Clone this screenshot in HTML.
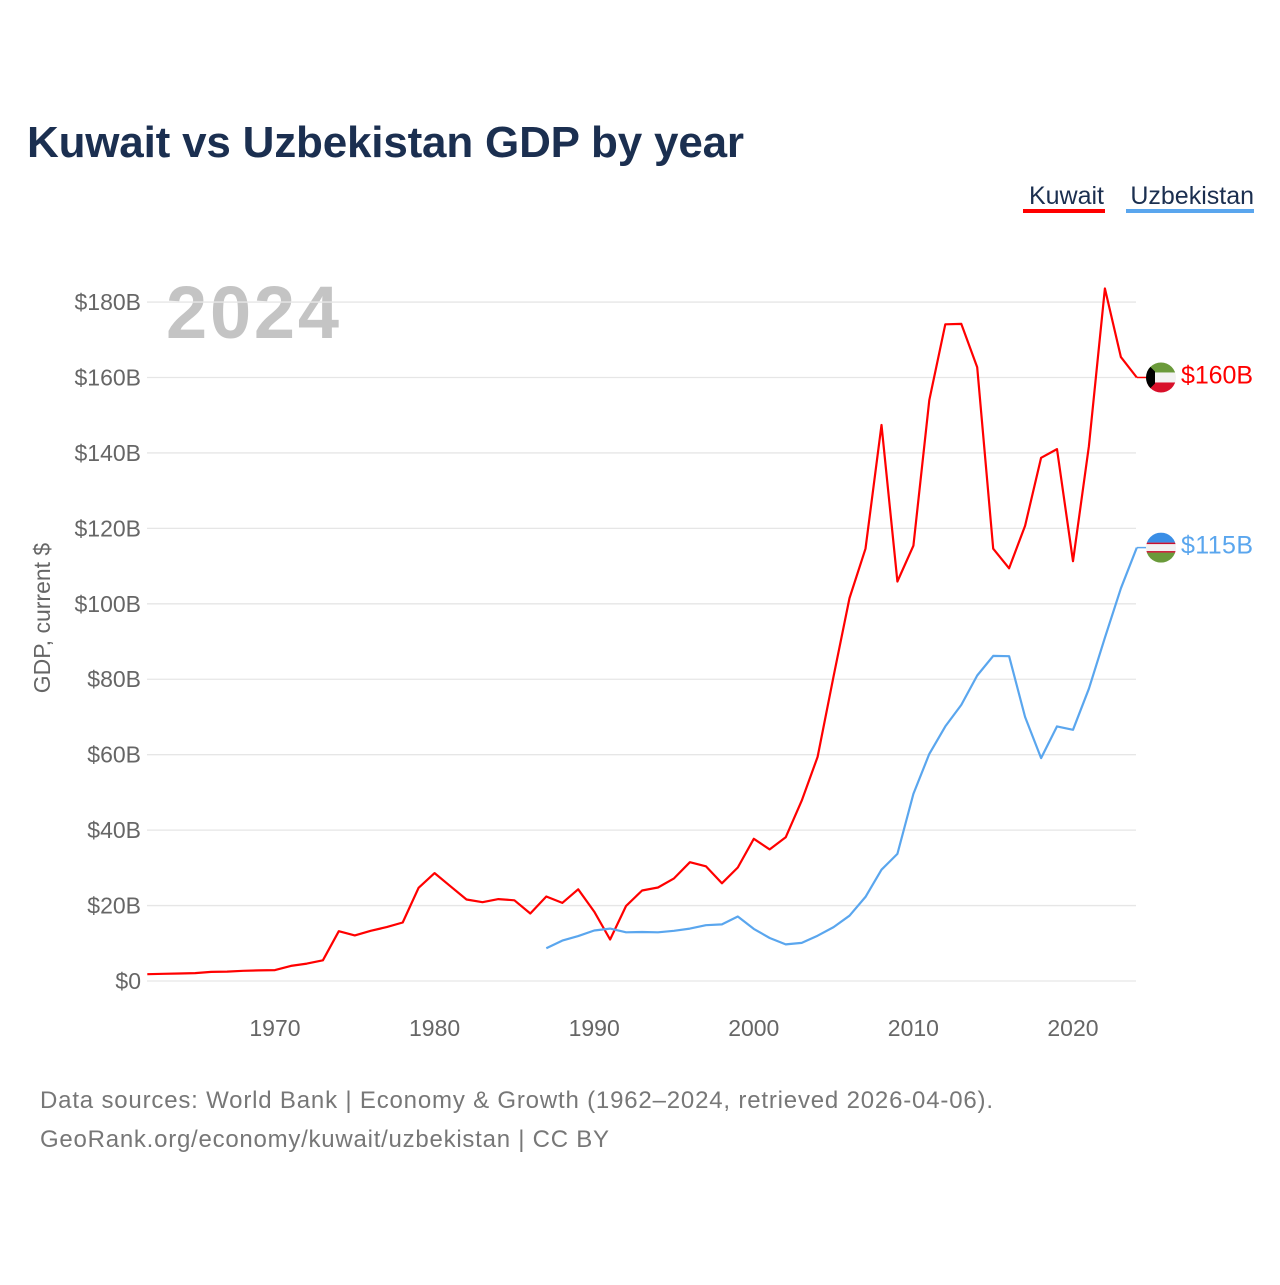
<!DOCTYPE html>
<html><head><meta charset="utf-8"><style>
body{margin:0;background:#fff;font-family:"Liberation Sans",sans-serif}
#c{position:relative;width:1280px;height:1280px}
</style></head><body>
<div id="c">
<svg id="s" width="1280" height="1280">
<text x="27" y="157" font-size="44" font-weight="bold" fill="#1b2f50" textLength="717">Kuwait vs Uzbekistan GDP by year</text>
<g><text x="1104" y="204" font-size="25" fill="#1b2f50" text-anchor="end">Kuwait</text><rect x="1023" y="209" width="82" height="4" fill="#ff0000"/></g>
<g><text x="1254" y="204" font-size="25" fill="#1b2f50" text-anchor="end">Uzbekistan</text><rect x="1126" y="209" width="128" height="4" fill="#5aa6ee"/></g>
<text x="166" y="338" font-size="74" font-weight="bold" fill="#c4c4c4" textLength="173">2024</text>
<text transform="translate(50,618) rotate(-90)" font-size="23" fill="#666" text-anchor="middle">GDP, current $</text>
<g id="grid"></g><g id="xt"></g><g id="lines"></g><g id="ends"></g>
<text x="40" y="1108" font-size="24" fill="#777" textLength="953">Data sources: World Bank | Economy &amp; Growth (1962–2024, retrieved 2026-04-06).</text>
<text x="40" y="1147" font-size="24" fill="#777" textLength="569">GeoRank.org/economy/kuwait/uzbekistan | CC BY</text>
</svg></div>
<script>
const yTicks=[0,20,40,60,80,100,120,140,160,180];
const yTickLabels=["$0","$20B","$40B","$60B","$80B","$100B","$120B","$140B","$160B","$180B"];
const xTicks=[1970,1980,1990,2000,2010,2020];
const kuwaitStart=1962;
const kuwait=[1.8,1.9,2.0,2.1,2.4,2.5,2.7,2.8,2.9,4.0,4.6,5.5,13.2,12.1,13.3,14.3,15.5,24.7,28.6,25.1,21.6,20.9,21.7,21.4,17.9,22.4,20.7,24.3,18.4,11.0,19.9,24.0,24.8,27.2,31.5,30.4,25.9,30.1,37.7,34.9,38.1,47.8,59.4,80.8,101.5,114.6,147.4,105.9,115.4,154.0,174.1,174.2,162.7,114.6,109.4,120.7,138.7,141.0,111.3,141.8,183.6,165.4,160.0];
const uzbStart=1987;
const uzbekistan=[8.7,10.7,11.9,13.4,13.9,12.9,13.0,12.9,13.3,13.9,14.8,15.0,17.1,13.8,11.4,9.7,10.1,12.0,14.3,17.3,22.3,29.5,33.7,49.6,60.2,67.5,73.2,81.0,86.2,86.1,70.0,59.1,67.5,66.6,77.5,91.0,104.1,114.9];
const NS="http://www.w3.org/2000/svg";
const X=yr=>147.3+(yr-1962)*15.96;
const Y=v=>981-v*3.772;
function mk(t,a,p){const e=document.createElementNS(NS,t);for(const k in a)e.setAttribute(k,a[k]);if(p)p.appendChild(e);return e;}
const grid=document.getElementById('grid');
yTicks.forEach((v,i)=>{
 const l=mk('line',{x1:147,x2:1136,y1:Y(v),y2:Y(v),stroke:'#e6e6e6','stroke-width':1.3},grid);
 
 
 const t=mk('text',{x:141,y:Y(v)+8,'font-size':23,fill:'#666','text-anchor':'end'},grid);
 t.textContent=yTickLabels[i];
 
 
});
const xt=document.getElementById('xt');
xTicks.forEach(yr=>{
 const t=mk('text',{x:X(yr),y:1036,'font-size':23,fill:'#666','text-anchor':'middle'},xt);
 t.textContent=yr;
 
 
});
const lines=document.getElementById('lines');
function pts(arr,s){return arr.map((v,i)=>X(s+i).toFixed(1)+','+Y(v).toFixed(1)).join(' ');}
const pk=mk('polyline',{points:pts(kuwait,kuwaitStart),fill:'none',stroke:'#ff0000','stroke-width':2.2,'stroke-linejoin':'round'},lines);


const pu=mk('polyline',{points:pts(uzbekistan,uzbStart),fill:'none',stroke:'#5aa6ee','stroke-width':2.2,'stroke-linejoin':'round'},lines);


const ends=document.getElementById('ends');
function endMark(v,col,lab,name,flag){
 const y=Y(v),x=X(2024);
 mk('line',{x1:x,x2:x+10,y1:y,y2:y,stroke:col,'stroke-width':1.5},ends);
 const g=mk('g',{},ends);
 
 
 const cx=1161;
 const cp='cp'+name;mk('clipPath',{id:cp},g).appendChild(mk('circle',{cx:cx,cy:y,r:15}));
 const f=mk('g',{'clip-path':'url(#'+cp+')'},g);
 flag(f,cx,y);
 const t=mk('text',{x:1181,y:y+6,'font-size':25,fill:col,textLength:72},ends);
 t.textContent=lab;
 
 
}
const kv=kuwait[kuwait.length-1], uv=uzbekistan[uzbekistan.length-1];
endMark(kv,'#ff0000','$'+Math.round(kv)+'B','kuwait',(f,cx,y)=>{
 mk('rect',{x:cx-15,y:y-15,width:30,height:10,fill:'#6a9a3a'},f);
 mk('rect',{x:cx-15,y:y-5,width:30,height:10,fill:'#f2f2f2'},f);
 mk('rect',{x:cx-15,y:y+5,width:30,height:10,fill:'#d8102a'},f);
 mk('polygon',{points:`${cx-15},${y-15} ${cx-6},${y-6} ${cx-6},${y+6} ${cx-15},${y+15}`,fill:'#000'},f);
});
endMark(uv,'#5aa6ee','$'+Math.round(uv)+'B','uzbekistan',(f,cx,y)=>{
 mk('rect',{x:cx-15,y:y-15,width:30,height:10,fill:'#3a8ee6'},f);
 mk('rect',{x:cx-15,y:y-5,width:30,height:10,fill:'#f2f2f2'},f);
 mk('rect',{x:cx-15,y:y+5,width:30,height:10,fill:'#6a9a3a'},f);
 mk('rect',{x:cx-15,y:y-5,width:30,height:1.5,fill:'#c8102e'},f);
 mk('rect',{x:cx-15,y:y+3.5,width:30,height:1.5,fill:'#c8102e'},f);
});
</script>
</body></html>
